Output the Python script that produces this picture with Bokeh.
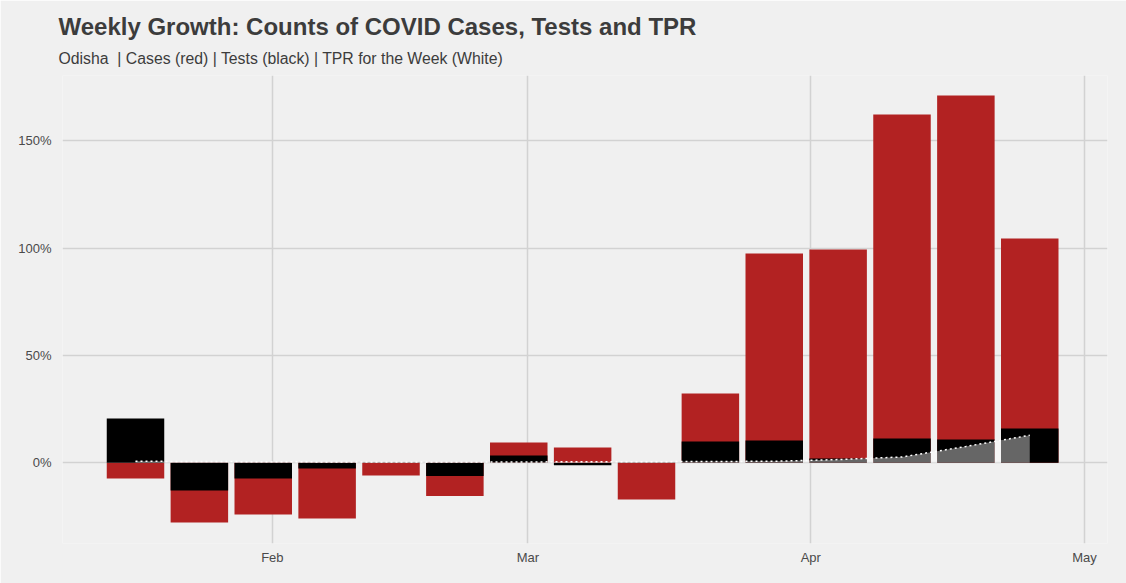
from datetime import datetime
from bokeh.plotting import figure
from bokeh.models import Range1d, Title, NumeralTickFormatter, FixedTicker, DatetimeTickFormatter
from bokeh.embed import file_html
from bokeh.resources import INLINE

# ---- data (weekly growth, fractions) ----
weeks = ["2021-01-17", "2021-01-24", "2021-01-31", "2021-02-07", "2021-02-14",
         "2021-02-21", "2021-02-28", "2021-03-07", "2021-03-14", "2021-03-21",
         "2021-03-28", "2021-04-04", "2021-04-11", "2021-04-18", "2021-04-25"]
cases_growth = [-0.073, -0.278, -0.241, -0.259, -0.059, -0.155, 0.095, 0.071,
                -0.171, 0.323, 0.975, 0.993, 1.622, 1.711, 1.045]
tests_growth = [0.206, -0.129, -0.073, -0.027, 0.001, -0.062, 0.034, -0.011,
                0.001, 0.099, 0.104, 0.020, 0.113, 0.108, 0.160]
tpr_week = [0.007, 0.006, 0.005, 0.004, 0.0035, 0.0035, 0.004, 0.0045,
            0.005, 0.006, 0.007, 0.015, 0.027, 0.076, 0.128]
month_ticks = ["2021-02-01", "2021-03-01", "2021-04-01", "2021-05-01"]
y_ticks = [0, 0.5, 1.0, 1.5]

title_text = "Weekly Growth: Counts of COVID Cases, Tests and TPR"
subtitle_text = "Odisha\u00a0 | Cases (red) | Tests (black) | TPR for the Week (White)"

BG = "#F0F0F0"
TXT = "#3C3C3C"
FONT = "Liberation Sans"

dates = [datetime.strptime(d, "%Y-%m-%d") for d in weeks]
epoch = datetime(1970, 1, 1)
def ms(d):
    return (datetime.strptime(d, "%Y-%m-%d") - epoch).total_seconds() * 1000.0
month_ms = [ms(d) for d in month_ticks]
DAY = 86400000.0
bar_w = 0.9 * 7 * DAY

p = figure(width=1126, height=583, x_axis_type="datetime",
           output_backend="svg", toolbar_location=None,
           x_range=Range1d(start=ms("2021-01-08") + 1.0 * DAY, end=ms("2021-05-03") + 0.52 * DAY),
           y_range=Range1d(start=-0.376, end=1.804),
           min_border_left=62, min_border_right=19, min_border_top=75, min_border_bottom=40)

p.background_fill_color = BG
p.border_fill_color = BG
p.outline_line_color = None

# titles
sub = Title(text=subtitle_text, text_font=FONT, text_font_size="15.8px",
            text_font_style="normal", text_color=TXT, align="left", offset=-4, standoff=17)
p.add_layout(sub, "above")
ttl = Title(text=title_text, text_font=FONT, text_font_size="24px",
            text_font_style="bold", text_color=TXT, align="left", offset=-4, standoff=0)
p.add_layout(ttl, "above")

# grid
p.xgrid.ticker = FixedTicker(ticks=month_ms)
p.ygrid.ticker = FixedTicker(ticks=y_ticks)
for g in (p.xgrid, p.ygrid):
    g.grid_line_color = "#D2D2D2"
    g.grid_line_width = 1.5
    g.minor_grid_line_color = None

# axes
p.xaxis.ticker = FixedTicker(ticks=month_ms)
p.xaxis.formatter = DatetimeTickFormatter(days="%b", months="%b", years="%b")
p.yaxis.ticker = FixedTicker(ticks=y_ticks)
p.yaxis.formatter = NumeralTickFormatter(format="0%")
for ax in (p.xaxis, p.yaxis):
    ax.axis_line_color = None
    ax.major_tick_line_color = None
    ax.minor_tick_line_color = None
    ax.major_tick_out = 0
    ax.major_tick_in = 0
    ax.major_label_text_font = FONT
    ax.major_label_text_font_size = "13px"
    ax.major_label_text_color = "#4A4A4A"
p.yaxis.major_label_standoff = 11
p.xaxis.major_label_standoff = 6

# bars
p.vbar(x=dates, top=cases_growth, bottom=0, width=bar_w, fill_color="#B22222", line_color=None)
p.vbar(x=dates, top=tests_growth, bottom=0, width=bar_w, fill_color="#000000", line_color=None)

# TPR area + dotted line
p.varea(x=dates, y1=[0] * len(dates), y2=tpr_week, fill_color="white", fill_alpha=0.4)
p.line(x=dates, y=tpr_week, line_color="white", line_dash="2 3", line_width=1.5)

open("out.html", "w").write(file_html(p, INLINE))
